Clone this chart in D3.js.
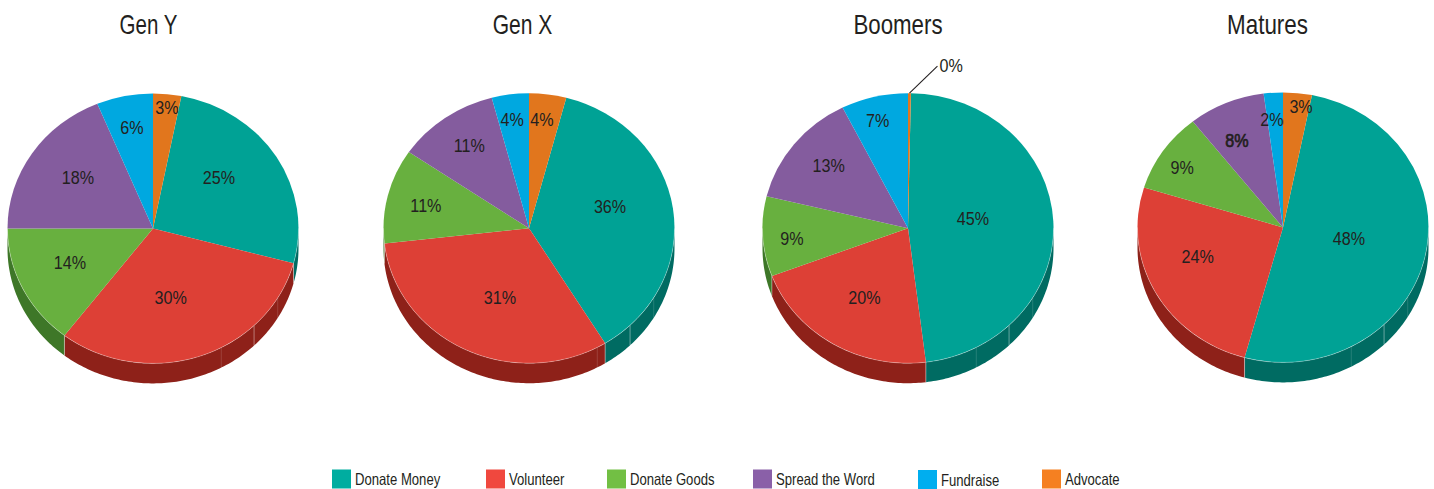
<!DOCTYPE html>
<html>
<head>
<meta charset="utf-8">
<script src="https://cdn.jsdelivr.net/npm/d3@7/dist/d3.min.js"></script>
<style>
html,body{margin:0;padding:0;background:#fff;overflow:hidden}
text{font-family:"Liberation Sans",sans-serif;fill:#231f20}
</style>
</head>
<body>
<svg id="chart" width="1434" height="489"></svg>
<script>
// ---- data ----
const categories = ["Donate Money","Volunteer","Donate Goods","Spread the Word","Fundraise","Advocate"];
const genY    = [25,30,14,18,6,3];
const genX    = [36,31,11,11,4,4];
const boomers = [45,20,9,13,7,0.3];
const matures = [48,24,9,8,2,3];
const titles  = ["Gen Y","Gen X","Boomers","Matures"];

// ---- styles ----
const topColors    = ["#00a295","#dd4036","#68b03f","#845c9e","#00a8e0","#e1761d"];
const sideColors   = ["#006b62","#8e2119","#3e7728","#5a3e6e","#00739a","#9c5114"];
const legendColors = ["#00ada0","#f0483e","#72bf44","#8a60a8","#00aeef","#f58021"];

// ---- layout ----
const centersX = [153,529,908,1283], centersY = [228.4,228.2,228.2,227.4];
const titleX = [148.5,522.5,898,1267.5];
const rx = 145.5, ry = 135, depth = 20;
const seamAngles = [121,136,152];
// hand-placed label offsets from the original, as fractions of the radii along each axis
const labelFracX = [[.534,.38,.636,.62,.74,.98],[.563,.456,.73,.71,.9,.69],[.447,.58,.8,.696,.904,0],[.466,.668,.84,.81,1.13,1.24]];
const labelFracY = [[.715,.54,.57,.68,.76,.9],[1.11,.567,.685,.754,.81,.81],[1.42,.6,1.2,.747,.822,0],[.354,.443,.785,.7,.8,.9]];
const legendX = [332,486,607,753,918,1042];
const narrowTitle = [.76,.78,.825,.83], narrowLabel = .85, narrowLegend = .795;

const svg = d3.select("#chart");
const rad = Math.PI/180;
const series = [genY,genX,boomers,matures];

// condensed text: no condensed face is installed, so squeeze the regular one horizontally
function squeezed(parent,x,y,str,size,k,anchor){
  return parent.append("text")
    .attr("transform",`translate(${x},${y}) scale(${k},1)`)
    .attr("text-anchor",anchor).attr("font-size",size).text(str);
}

series.forEach((vals,ci)=>{
  const cx = centersX[ci], cy = centersY[ci];
  const g = svg.append("g").attr("transform",`translate(${cx},${cy})`);
  const sx = a => rx*Math.sin(a), sy = a => -ry*Math.cos(a);

  // start with Advocate at 12 o'clock, then clockwise through the categories
  const total = d3.sum(vals);
  const toAngle = d3.scaleLinear().domain([0,total]).range([0,2*Math.PI]);
  const offset = toAngle(vals[5]);
  const slices = d3.pie().sort(null).value(d=>d)
      .startAngle(offset).endAngle(offset+2*Math.PI)(vals);

  // side wall
  const side = d3.area().x(a=>sx(a)).y0(a=>sy(a)).y1(a=>sy(a)+depth);
  const lo = Math.PI/2, hi = 3*Math.PI/2;
  slices.forEach((s,i)=>{
    const a0 = Math.max(s.startAngle,lo), a1 = Math.min(s.endAngle,hi);
    if(a1<=a0) return;
    const n = Math.ceil((a1-a0)/(rad*1));
    const pts = d3.range(n+1).map(k=>a0+(a1-a0)*k/n);
    g.append("path").attr("d",side(pts)).attr("fill",sideColors[i]);
  });
  // wall seams
  seamAngles.forEach(d=>{
    const a = d*rad;
    g.append("line").attr("x1",sx(a)).attr("x2",sx(a)).attr("y1",sy(a)).attr("y2",sy(a)+depth)
      .attr("stroke","#fff").attr("stroke-opacity",d===136?.4:.14).attr("stroke-width",1);
  });
  slices.forEach(s=>{
    const a = s.endAngle % (2*Math.PI);
    if(a>lo && a<hi){
      g.append("line").attr("x1",sx(a)).attr("x2",sx(a)).attr("y1",sy(a)).attr("y2",sy(a)+depth)
       .attr("stroke","#fff").attr("stroke-opacity",.4).attr("stroke-width",1);
    }
  });

  // top face: circle arcs squashed to the tilted ellipse
  const top = g.append("g").attr("transform",`scale(1,${ry/rx})`);
  const arc = d3.arc().innerRadius(0).outerRadius(rx);
  top.selectAll("path").data(slices).join("path")
    .attr("d",arc).attr("fill",(d,i)=>topColors[i]);

  // light rim along the front
  const rim = d3.line().x(a=>sx(a)).y(a=>sy(a));
  g.append("path").attr("d",rim(d3.range(90,271,2).map(d=>d*rad)))
    .attr("fill","none").attr("stroke","#fff").attr("stroke-opacity",.35).attr("stroke-width",.8);

  // value labels
  slices.forEach((s,i)=>{
    const mid = (s.startAngle+s.endAngle)/2;
    const txt = Math.round(vals[i])+"%";
    if(vals[i]<1){
      // leader line for the near-zero slice
      const px = sx(mid), py = sy(mid);
      g.append("line").attr("x1",px).attr("y1",py).attr("x2",px+28).attr("y2",py-27)
        .attr("stroke","#231f20").attr("stroke-width",1.1);
      squeezed(g,px+30,py-21,txt,19,narrowLabel,"start");
      return;
    }
    const t = squeezed(g,labelFracX[ci][i]*sx(mid),labelFracY[ci][i]*sy(mid)+6.5,txt,19,narrowLabel,"middle");
    if(ci===3 && i===3) t.attr("stroke","#231f20").attr("stroke-width",.7);
  });

  // title
  squeezed(svg,titleX[ci],34,titles[ci],27,narrowTitle[ci],"middle");
});

// legend
const lg = svg.append("g").selectAll("g").data(categories).join("g")
  .attr("transform",(d,i)=>`translate(${legendX[i]},${i===4?470:469.5})`);
lg.append("rect").attr("width",19).attr("height",19).attr("fill",(d,i)=>legendColors[i]);
lg.each(function(d){ squeezed(d3.select(this),23,15.5,d,16.5,narrowLegend,"start"); });
</script>
</body>
</html>
